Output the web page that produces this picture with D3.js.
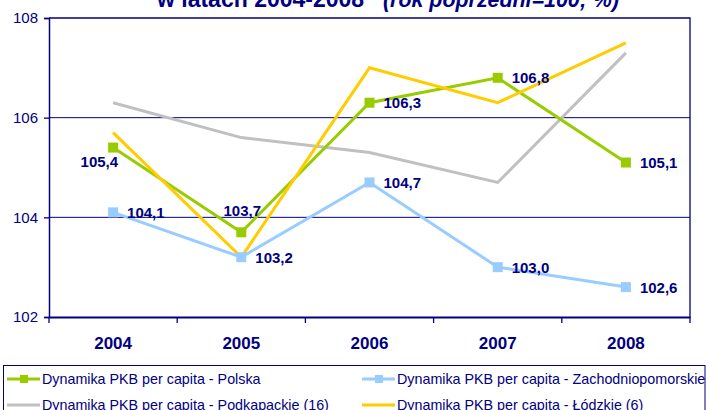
<!DOCTYPE html>
<html>
<head>
<meta charset="utf-8">
<script src="https://cdn.jsdelivr.net/npm/d3@7"></script>
<style>
  body { margin: 0; background: #fff; }
  svg { display: block; font-family: "Liberation Sans", Arial, sans-serif; }
</style>
</head>
<body>
<svg id="chart" width="709" height="410"></svg>
<script>
// Dynamika PKB per capita, rok poprzedni = 100
const YEARS = ['2004', '2005', '2006', '2007', '2008'];
const POLSKA = [105.4, 103.7, 106.3, 106.8, 105.1];
const ZACHODNIOPOMORSKIE = [104.1, 103.2, 104.7, 103.0, 102.6];
const PODKARPACKIE = [106.3, 105.6, 105.3, 104.7, 107.3];
const LODZKIE = [105.7, 103.2, 107.0, 106.3, 107.5];
const Y_TICKS = [102, 104, 106, 108];

const NAVY = '#000080';
const FONT = '"Liberation Sans", Arial, sans-serif';
const series = [
  { name: 'Dynamika PKB per capita - Podkapackie (16)', values: PODKARPACKIE, color: '#c0c0c0', marker: false },
  { name: 'Dynamika PKB per capita - Polska', values: POLSKA, color: '#99cc00', marker: true,
    labelPos: ['below-left', 'above', 'right', 'right', 'right'] },
  { name: 'Dynamika PKB per capita - Łódzkie (6)', values: LODZKIE, color: '#ffcc00', marker: false },
  { name: 'Dynamika PKB per capita - Zachodniopomorskie', values: ZACHODNIOPOMORSKIE, color: '#99ccff', marker: true,
    labelPos: ['right', 'right', 'right', 'right', 'right'] },
];

const M = { top: 18, left: 49, right: 19, bottom: 93 };
const W = 709, H = 410;
const svg = d3.select('#chart');

const x = d3.scaleBand().domain(YEARS).range([M.left, W - M.right]);
const y = d3.scaleLinear().domain([102, 108]).range([H - M.bottom, M.top]);
const cx = d => x(d) + x.bandwidth() / 2;

// title (top line is cut off in the original)
const title = svg.append('text')
  .attr('x', 157).attr('y', 7)
  .attr('fill', NAVY).attr('font-weight', 'bold').attr('font-size', 23);
title.append('tspan').text('w latach 2004-2008');
title.append('tspan').attr('x', 383).attr('font-style', 'italic').attr('font-size', 21.4)
  .text('(rok poprzedni=100; %)');

// gridlines
svg.append('g').selectAll('line')
  .data([104, 106])
  .join('line')
  .attr('x1', M.left).attr('x2', W - M.right)
  .attr('y1', d => y(d)).attr('y2', d => y(d))
  .attr('stroke', NAVY).attr('stroke-width', 1);

// plot border (top + right)
svg.append('path')
  .attr('d', `M${M.left},${y(108)}H${W - M.right}V${y(102)}`)
  .attr('fill', 'none').attr('stroke', NAVY).attr('stroke-width', 1.3);

// y axis
const yAxis = svg.append('g')
  .attr('transform', `translate(${M.left},0)`)
  .call(d3.axisLeft(y).tickValues(Y_TICKS).tickSize(5).tickPadding(6).tickFormat(d3.format('d')));
yAxis.select('.domain').attr('stroke', NAVY).attr('stroke-width', 1.5);
yAxis.selectAll('.tick line').attr('stroke', NAVY).attr('stroke-width', 1.3);
yAxis.selectAll('text').attr('fill', NAVY).attr('font-size', 15).attr('font-family', FONT);

// x axis
const xAxis = svg.append('g')
  .attr('transform', `translate(0,${y(102)})`)
  .call(d3.axisBottom(x).tickSize(0).tickPadding(20));
xAxis.select('.domain').attr('stroke', NAVY).attr('stroke-width', 2);
xAxis.selectAll('text').attr('fill', NAVY).attr('font-size', 17).attr('font-weight', 'bold')
  .attr('font-family', FONT);
// category boundary ticks
const bounds = YEARS.map(d => x(d)).concat([x(YEARS[YEARS.length - 1]) + x.bandwidth()]);
svg.append('g').selectAll('line')
  .data(bounds)
  .join('line')
  .attr('x1', d => d).attr('x2', d => d)
  .attr('y1', y(102)).attr('y2', y(102) + 6)
  .attr('stroke', NAVY).attr('stroke-width', 1.3);

// lines
const line = d3.line().x((d, i) => cx(YEARS[i])).y(d => y(d));
svg.append('g').selectAll('path')
  .data(series)
  .join('path')
  .attr('d', s => line(s.values))
  .attr('fill', 'none')
  .attr('stroke', s => s.color)
  .attr('stroke-width', 3);

// markers and labels
const MS = 10;
series.filter(s => s.marker).forEach(s => {
  const g = svg.append('g');
  g.selectAll('rect')
    .data(s.values)
    .join('rect')
    .attr('x', (d, i) => cx(YEARS[i]) - MS / 2)
    .attr('y', d => y(d) - MS / 2)
    .attr('width', MS).attr('height', MS)
    .attr('fill', s.color);
  g.selectAll('text')
    .data(s.values)
    .join('text')
    .attr('x', (d, i) => {
      const p = s.labelPos[i], px = cx(YEARS[i]);
      if (p === 'right') return px + 14;
      if (p === 'below-left') return px + 5;
      return px + 1;
    })
    .attr('y', (d, i) => {
      const p = s.labelPos[i], py = y(d);
      if (p === 'right') return py + 5.5;
      if (p === 'below-left') return py + 19;
      return py - 16;
    })
    .attr('text-anchor', (d, i) => {
      const p = s.labelPos[i];
      return p === 'right' ? 'start' : p === 'below-left' ? 'end' : 'middle';
    })
    .attr('fill', NAVY).attr('font-size', 15).attr('font-weight', 'bold')
    .text(d => d3.format('.1f')(d).replace('.', ','));
});

// legend
svg.append('rect')
  .attr('x', 3.5).attr('y', 365.5).attr('width', 701.5).attr('height', 60)
  .attr('fill', 'none').attr('stroke', NAVY).attr('stroke-width', 1);
const legendOrder = [1, 3, 0, 2];
const legendPos = [[7, 379], [362, 379], [7, 405], [362, 405]];
legendOrder.forEach((si, k) => {
  const s = series[si];
  const [lx, ly] = legendPos[k];
  const g = svg.append('g').attr('transform', `translate(${lx},${ly})`);
  g.append('line').attr('x1', 0).attr('x2', 33).attr('y1', 0).attr('y2', 0)
    .attr('stroke', s.color).attr('stroke-width', 3);
  if (s.marker) {
    g.append('rect').attr('x', 13).attr('y', -4).attr('width', 8).attr('height', 8).attr('fill', s.color);
  }
  g.append('text').attr('x', 35).attr('y', 5)
    .attr('fill', NAVY).attr('font-size', 14.3)
    .text(s.name);
});
</script>
</body>
</html>
